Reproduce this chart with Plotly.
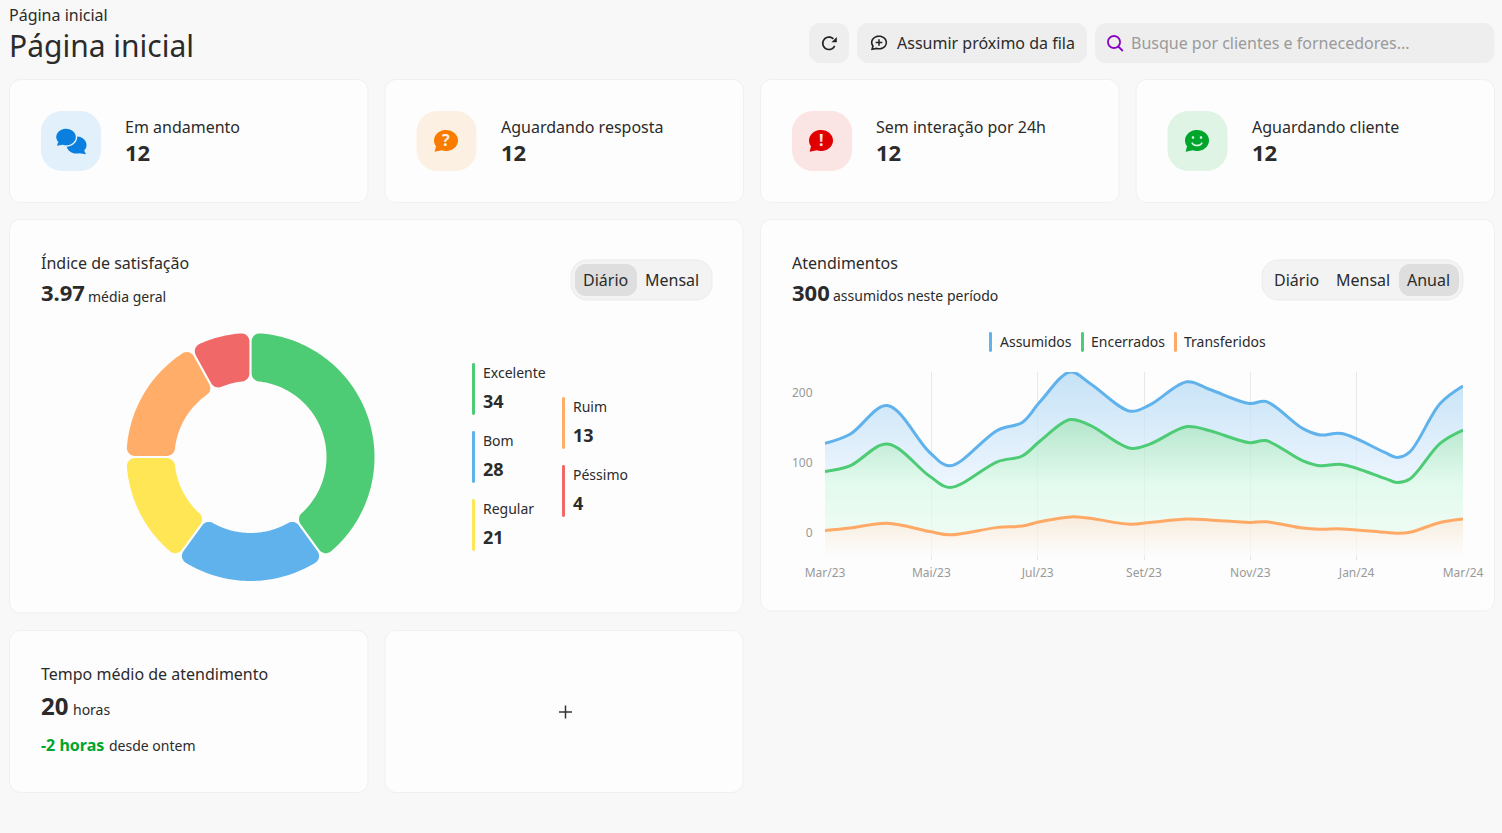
import math
import plotly.graph_objects as go

W, H = 1502, 833
FONT = "Noto Sans"
INK = "#2b2b2b"
BG = "#f8f8f8"
CARD = "#fdfdfd"

# satisfaction donut
slice_labels = ["Excelente", "Bom", "Regular", "Ruim", "Péssimo"]
slice_shares = [40, 20, 15, 17, 8]
slice_counts = [34, 28, 21, 13, 4]
slice_colors = ["#4ecb75", "#5fb2eb", "#ffe655", "#ffad69", "#f06868"]

# atendimentos at their bends
months = [0, 0.47, 1.17, 1.97, 2.35, 3.25, 3.71, 4.04, 4.61, 4.98, 5.74, 6.11,
          6.81, 7.24, 7.99, 8.29, 8.99, 9.31, 9.72, 10.53, 10.76, 11, 11.57, 12]
assumidos = [128, 141, 182, 115, 96, 147, 158, 187, 230, 214, 174, 183,
             216, 205, 185, 188, 149, 140, 142, 115, 108, 116, 185, 210]
encerrados = [88, 96, 127, 81, 65, 102, 110, 131, 162, 154, 121, 127,
              152, 146, 129, 132, 103, 96, 98, 78, 72, 77, 128, 147]
transferidos = [3.5, 7, 14, 2, -2.7, 8, 10, 16, 23, 21, 12.5, 15,
                20, 18.7, 15, 16, 7, 5.4, 5.8, 1, -0.3, 1, 15, 20]
tick_months = [0, 2, 4, 6, 8, 10, 12]
tick_labels = ["Mar/23", "Mai/23", "Jul/23", "Set/23", "Nov/23", "Jan/24", "Mar/24"]
y_ticks = [0, 100, 200]

# top cards
card_titles = ["Em andamento", "Aguardando resposta", "Sem interação por 24h", "Aguardando cliente"]
card_values = [12, 12, 12, 12]

shapes = []
notes = []


def pt(x, y):
    return f"{x / W:.5f},{1 - y / H:.5f}"


def add_path(d, fill=None, line=None, width=1):
    shapes.append(dict(type="path", path=d, xref="paper", yref="paper", layer="below",
                       fillcolor=fill or "rgba(0,0,0,0)",
                       line=dict(color=line or "rgba(0,0,0,0)", width=width if line else 0)))


def rrect(x0, y0, x1, y1, r, fill=None, line=None, width=1):
    k = r * 0.45
    d = (f"M{pt(x0 + r, y0)} L{pt(x1 - r, y0)} C{pt(x1 - k, y0)} {pt(x1, y0 + k)} {pt(x1, y0 + r)} "
         f"L{pt(x1, y1 - r)} C{pt(x1, y1 - k)} {pt(x1 - k, y1)} {pt(x1 - r, y1)} "
         f"L{pt(x0 + r, y1)} C{pt(x0 + k, y1)} {pt(x0, y1 - k)} {pt(x0, y1 - r)} "
         f"L{pt(x0, y0 + r)} C{pt(x0, y0 + k)} {pt(x0 + k, y0)} {pt(x0 + r, y0)} Z")
    add_path(d, fill, line, width)


def polyline(points, close=False):
    d = "M" + " L".join(pt(x, y) for x, y in points)
    return d + (" Z" if close else "")


def ring(cx, cy, rx, ry, start=0, end=360, n=40):
    return [(cx + rx * math.cos(math.radians(start + (end - start) * i / n)),
             cy + ry * math.sin(math.radians(start + (end - start) * i / n))) for i in range(n + 1)]


def bubble(cx, cy, rx, ry, color, tail="left", stroke=None, outline=False, width=1.6):
    # speech balloon, ellipse plus a small tail at the bottom
    if tail == "left":
        pts = ring(cx, cy, rx, ry, 140, 470)
        pts = pts + [(cx - rx * 0.95, cy + ry * 1.08), (cx - rx * 0.83, cy + ry * 0.55)]
    else:
        pts = ring(cx, cy, rx, ry, 70, 400)
        pts = pts + [(cx + rx * 0.95, cy + ry * 1.08), (cx + rx * 0.28, cy + ry * 0.96)]
    if outline:
        add_path(polyline(pts, True), None, color, width)
    else:
        add_path(polyline(pts, True), color, stroke, 1.5)


def text(x, y, s, size=16, color=INK, anchor="left", bold=False):
    # annotations keep about 2px of padding on the anchored side
    x = x - 2 if anchor == "left" else x
    notes.append(dict(x=x / W, y=1 - y / H, xref="paper", yref="paper", text=f"<b>{s}</b>" if bold else s,
                      showarrow=False, xanchor=anchor, yanchor="middle",
                      font=dict(family=FONT, size=size, color=color)))


def card(x0, y0, x1, y1):
    rrect(x0, y0, x1, y1, 11, CARD, "#f0f0f0", 1)


def toggle(x0, x1, labels, centers, sel):
    rrect(x0, 260, x1, 300, 16, "#f3f3f3", "#ececec", 1)
    rrect(sel[0], 264, sel[1], 296, 11, "#dedede")
    for lab, c in zip(labels, centers):
        text(c, 280, lab, 16, anchor="center")


def legend_bar(x, y0, y1, color, w=3):
    rrect(x, y0, x + w, y1, 1.4, color)


def see_through(hex_color, a=0.72):
    # same look over the card, but lets the grid lines show through
    chans = [int(hex_color[i:i + 2], 16) for i in (1, 3, 5)]
    r, g, b = [max(0, min(255, round((c - (1 - a) * 253) / a))) for c in chans]
    return f"rgba({r},{g},{b},{a})"


# header
text(9, 15.5, "Página inicial", 16)
text(8.8, 45.3, "Página inicial", 30)
rrect(809, 23, 849, 63, 11, "#eeeeee")
rrect(857, 23, 1087, 63, 11, "#eeeeee")
rrect(1095, 23, 1494.5, 63, 11, "#eeeeee")
add_path(polyline(ring(829, 43.3, 6.2, 6.2, 25, 315)), None, "#222222", 1.7)
add_path(polyline([(836.8, 37), (836.8, 42.3), (831.5, 42.3)], True), "#222222")
bubble(879, 42.5, 7.3, 6.3, "#222222", outline=True)
add_path(polyline([(875.7, 42.5), (882.3, 42.5)]), None, "#222222", 1.5)
add_path(polyline([(879, 39.2), (879, 45.8)]), None, "#222222", 1.5)
text(897, 43, "Assumir próximo da fila", 16)
add_path(polyline(ring(1114, 42, 6, 6)), None, "#8a00c4", 1.8)
add_path(polyline([(1118.2, 46.4), (1122.8, 51)]), None, "#8a00c4", 1.8)
text(1131, 43, "Busque por clientes e fornecedores...", 16, "#9a9a9a")

# top cards
card_x = [9.5, 385, 760.5, 1136]
tile_colors = ["#e2f0fb", "#fcf0e2", "#fbe4e4", "#e0f4e5"]
for x, t, v, tc in zip(card_x, card_titles, card_values, tile_colors):
    card(x, 79.5, x + 358.5, 202.5)
    rrect(x + 31.5, 111, x + 91.5, 171, 21, tc)
    text(x + 115.6, 127, t, 16)
    text(x + 115.6, 152.4, v, 22, bold=True)

bubble(76.5, 145, 10, 8.6, "#0a7fe0", tail="right")
bubble(66, 137, 10.5, 9, "#0a7fe0", stroke="#e2f0fb")
bubble(446, 140.5, 12, 10.5, "#f97c00")
text(446, 140.5, "?", 16, "#fcf0e2", "center", True)
bubble(821, 140.5, 12, 10.5, "#e00000")
text(821, 140.5, "!", 16, "#fbe4e4", "center", True)
bubble(1197, 140.5, 12, 10.5, "#00a52c")
add_path(polyline(ring(1193, 137.5, 1.3, 1.3, n=12), True), "#e0f4e5")
add_path(polyline(ring(1201, 137.5, 1.3, 1.3, n=12), True), "#e0f4e5")
add_path(polyline(ring(1197, 141, 5.5, 4.5, 20, 160, 12)), None, "#e0f4e5", 1.6)

# panels
card(9.5, 219.5, 743, 613)
card(760.5, 219.5, 1494.5, 611)
card(9.5, 630.5, 368, 792.5)
card(385, 630.5, 743, 792.5)

text(41, 292.5, "3.97", 22, bold=True)
text(41, 263, "Índice de satisfação", 16)
text(88, 297, "média geral", 14)
toggle(571, 712, ["Diário", "Mensal"], [605.5, 672], (575, 637))

text(792, 263, "Atendimentos", 16)
text(792, 292.5, "300", 22, bold=True)
text(833, 295.8, "assumidos neste período", 14)
toggle(1262, 1463, ["Diário", "Mensal", "Anual"], [1296.5, 1363, 1428], (1399, 1459))

text(41, 674, "Tempo médio de atendimento", 16)
text(41, 705.5, "20", 24, bold=True)
text(73, 709.5, "horas", 14)
text(41, 745, "-2 horas", 16, "#00a52c", bold=True)
text(109, 745.5, "desde ontem", 14)
add_path(polyline([(559, 712), (572, 712)]), None, "#333333", 1.5)
add_path(polyline([(565.5, 705.5), (565.5, 718.5)]), None, "#333333", 1.5)

# donut legend
leg_pos = [(472, 363), (472, 431), (472, 499), (562, 397), (562, 465)]
for (x, y), lab, cnt, col in zip(leg_pos, slice_labels, slice_counts, slice_colors):
    legend_bar(x, y, y + 52, col)
    text(x + 10.8, y + 9.3, lab, 14)
    text(x + 10.8, y + 38, cnt, 18, bold=True)

# line chart legend
series_names = ["Assumidos", "Encerrados", "Transferidos"]
series_colors = ["#5fb2eb", "#4ecb75", "#ffa966"]
for bx, tx, name, col in zip([989, 1081, 1174], [1000, 1091, 1184], series_names, series_colors):
    legend_bar(bx, 332, 352, col)
    text(tx, 341.5, name, 14)


def slice_outline(a0, a1, ro=124, ri=76, c=8, g=1.1):
    # rounded ring segment, angles clockwise from 12 o'clock in degrees
    def u(deg):
        return math.sin(math.radians(deg)), math.cos(math.radians(deg))

    def arc_pts(center_r, center_a, r, phi0, phi1, n=8):
        cx, cy = center_r * u(center_a)[0], center_r * u(center_a)[1]
        out = []
        for i in range(n + 1):
            ux, uy = u(phi0 + (phi1 - phi0) * i / n)
            out.append((cx + r * ux, cy + r * uy))
        return out

    rc_o, rc_i = ro - c, ri + c
    d_o = math.degrees(math.asin((c + g) / rc_o))
    d_i = math.degrees(math.asin((c + g) / rc_i))
    pts = []
    n = max(8, int(a1 - a0))
    for i in range(n + 1):
        a = (a0 + d_o) + (a1 - a0 - 2 * d_o) * i / n
        pts.append((ro * u(a)[0], ro * u(a)[1]))
    pts += arc_pts(rc_o, a1 - d_o, c, a1 - d_o, a1 + 90)
    pts += arc_pts(rc_i, a1 - d_i, c, a1 + 90, a1 - d_i + 180)
    for i in range(n + 1):
        a = (a1 - d_i) - (a1 - a0 - 2 * d_i) * i / n
        pts.append((ri * u(a)[0], ri * u(a)[1]))
    pts += arc_pts(rc_i, a0 + d_i, c, a0 + d_i + 180, a0 + 270)
    pts += arc_pts(rc_o, a0 + d_o, c, a0 - 90, a0 + d_o)
    pts.append(pts[0])
    return ([math.hypot(x, y) for x, y in pts],
            [math.degrees(math.atan2(x, y)) for x, y in pts])


fig = go.Figure()

# donut slices
total = sum(slice_shares)
start = 0
for lab, share, col in zip(slice_labels, slice_shares, slice_colors):
    end = start + 360 * share / total
    r, theta = slice_outline(start, end)
    fig.add_trace(go.Scatterpolar(r=r, theta=theta, mode="lines", fill="toself", fillcolor=col,
                                  line=dict(width=0, color=col), name=lab, hoverinfo="name"))
    start = end

# area chart, stacked bottom up so that each fill stops at the next curve
floor = -32
curve = dict(width=3, shape="spline", smoothing=1.0)
fig.add_trace(go.Scatter(x=months, y=[floor] * len(months), mode="lines", line=dict(width=0),
                         hoverinfo="skip", showlegend=False))
fig.add_trace(go.Scatter(
    x=months, y=transferidos, name="Transferidos", mode="lines", fill="tonexty", cliponaxis=False,
    line=dict(color=series_colors[2], **curve),
    fillgradient=dict(type="vertical", colorscale=[[0, see_through(CARD)], [1, see_through("#f7ecdc")]],
                      start=floor, stop=24)))
fig.add_trace(go.Scatter(
    x=months, y=encerrados, name="Encerrados", mode="lines", fill="tonexty", cliponaxis=False,
    line=dict(color=series_colors[1], **curve),
    fillgradient=dict(type="vertical",
                      colorscale=[[0, see_through("#eefcf4")], [0.45, see_through("#e2faee")],
                                  [1, see_through("#b4e6cb")]], start=0, stop=161)))
fig.add_trace(go.Scatter(
    x=months, y=assumidos, name="Assumidos", mode="lines", fill="tonexty", cliponaxis=False,
    line=dict(color=series_colors[0], **curve),
    fillgradient=dict(type="vertical", colorscale=[[0, see_through("#edf6ff")], [1, see_through("#c6e2f6")]],
                      start=70, stop=229)))

fig.update_layout(
    width=W, height=H, margin=dict(l=0, r=0, t=0, b=0, autoexpand=False), autosize=False,
    paper_bgcolor=BG, plot_bgcolor="rgba(0,0,0,0)", showlegend=False,
    font=dict(family=FONT), shapes=shapes, annotations=notes,
    xaxis=dict(domain=[825 / W, 1463 / W], range=[0, 12], tickvals=tick_months, ticktext=tick_labels,
               showgrid=True, gridcolor="#e8e8e8", gridwidth=1, zeroline=False, showline=False,
               ticks="outside", ticklen=2, tickcolor="rgba(0,0,0,0)",
               tickfont=dict(family=FONT, size=12, color="#999999")),
    yaxis=dict(domain=[1 - 560 / H, 1 - 372 / H], range=[-38.6, 230], tickvals=y_ticks,
               showgrid=False, zeroline=False, showline=False,
               ticks="outside", ticklen=9, tickcolor="rgba(0,0,0,0)",
               tickfont=dict(family=FONT, size=12, color="#999999")),
    polar=dict(domain=dict(x=[125.5 / W, 375.5 / W], y=[1 - 582 / H, 1 - 332 / H]), bgcolor="rgba(0,0,0,0)",
               radialaxis=dict(visible=False, range=[0, 125]),
               angularaxis=dict(visible=False, rotation=90, direction="clockwise")),
)

fig.write_html("out.html", config=dict(displayModeBar=False),
               post_script="document.body.style.margin='0';document.body.style.overflow='hidden';")
